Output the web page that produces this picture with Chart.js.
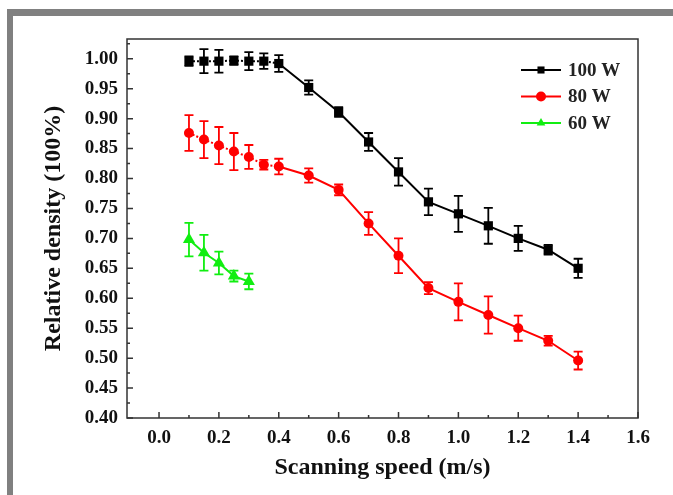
<!DOCTYPE html>
<html>
<head>
<meta charset="utf-8">
<title>Relative density vs scanning speed</title>
<script src="https://cdn.jsdelivr.net/npm/chart.js@4.4.1/dist/chart.umd.min.js"></script>
<style>
  html, body { margin: 0; padding: 0; background: #fff; }
  #wrap { position: relative; width: 673px; height: 495px; overflow: hidden; }
  .bar-top { position: absolute; left: 7px; top: 9px; width: 666px; height: 7px; background: #808080; }
  .bar-left { position: absolute; left: 7px; top: 9px; width: 6px; height: 486px; background: #808080; }
  canvas { position: absolute; left: 0; top: 0; }
</style>
</head>
<body>
<div id="wrap">
  <canvas id="densityChart" width="673" height="495"></canvas>
  <div class="bar-top"></div>
  <div class="bar-left"></div>
</div>
<script>
const speeds = [0.1, 0.15, 0.2, 0.25, 0.3, 0.35, 0.4, 0.5, 0.6, 0.7, 0.8, 0.9, 1.0, 1.1, 1.2, 1.3, 1.4];
const density100 = [0.996, 0.996, 0.996, 0.997, 0.996, 0.996, 0.992, 0.952, 0.911, 0.861, 0.811, 0.761, 0.741, 0.721, 0.700, 0.681, 0.650];
const error100 = [0.008, 0.020, 0.019, 0.007, 0.015, 0.013, 0.014, 0.012, 0.008, 0.015, 0.023, 0.022, 0.030, 0.030, 0.021, 0.008, 0.016];
const density80 = [0.876, 0.865, 0.855, 0.845, 0.836, 0.823, 0.820, 0.805, 0.781, 0.725, 0.671, 0.617, 0.594, 0.572, 0.550, 0.529, 0.496];
const error80 = [0.030, 0.031, 0.031, 0.031, 0.020, 0.008, 0.013, 0.012, 0.009, 0.019, 0.029, 0.010, 0.031, 0.031, 0.021, 0.008, 0.015];
const speeds60 = [0.1, 0.15, 0.2, 0.25, 0.3];
const density60 = [0.698, 0.676, 0.659, 0.637, 0.628];
const error60 = [0.028, 0.030, 0.019, 0.009, 0.013];
const seriesLabels = ['100 W', '80 W', '60 W'];
const xTickValues = [0, 0.2, 0.4, 0.6, 0.8, 1.0, 1.2, 1.4, 1.6];
const yTickValues = [0.40, 0.45, 0.50, 0.55, 0.60, 0.65, 0.70, 0.75, 0.80, 0.85, 0.90, 0.95, 1.00];

const serif = "'Liberation Serif', 'Times New Roman', serif";

function points(xs, ys) {
  return xs.map((x, i) => ({ x: x, y: ys[i] }));
}

// low-speed part of the curves is joined with a dotted line
const dottedStart = {
  borderDash: ctx => (ctx.p1.parsed.x <= 0.4 ? [2, 2] : undefined)
};

const errorBars = {
  id: 'errorBars',
  beforeDatasetsDraw(chart) {
    const { ctx, scales: { x, y } } = chart;
    chart.data.datasets.forEach(ds => {
      ctx.save();
      ctx.strokeStyle = ds.borderColor;
      ctx.lineWidth = 1.8;
      ds.data.forEach((pt, j) => {
        const e = ds.errors[j];
        const px = x.getPixelForValue(pt.x);
        const top = y.getPixelForValue(pt.y + e);
        const bot = y.getPixelForValue(pt.y - e);
        ctx.beginPath();
        ctx.moveTo(px, top); ctx.lineTo(px, bot);
        ctx.moveTo(px - 4.5, top); ctx.lineTo(px + 4.5, top);
        ctx.moveTo(px - 4.5, bot); ctx.lineTo(px + 4.5, bot);
        ctx.stroke();
      });
      ctx.restore();
    });
  }
};

// box around the plot with inward major / minor ticks
const plotFrame = {
  id: 'plotFrame',
  afterDraw(chart) {
    const { ctx, chartArea: a, scales: { x, y } } = chart;
    ctx.save();
    ctx.strokeStyle = '#333';
    ctx.lineWidth = 1.5;
    ctx.strokeRect(a.left, a.top, a.right - a.left, a.bottom - a.top);
    ctx.beginPath();
    for (let i = 0; i <= 16; i++) {
      const v = i / 10;
      const px = x.getPixelForValue(v);
      ctx.moveTo(px, a.bottom);
      ctx.lineTo(px, a.bottom - (i % 2 === 0 ? 6 : 3));
    }
    for (let i = 0; i <= 25; i++) {
      const v = 0.4 + i * 0.025;
      const py = y.getPixelForValue(v);
      ctx.moveTo(a.left, py);
      ctx.lineTo(a.left + (i % 2 === 0 ? 6 : 3), py);
    }
    ctx.stroke();
    ctx.restore();
  }
};

const lineLegend = {
  id: 'lineLegend',
  afterDraw(chart) {
    const { ctx, chartArea: a } = chart;
    const x0 = a.right - 117;
    ctx.save();
    chart.data.datasets.forEach((ds, i) => {
      const yy = a.top + 31 + i * 26.5;
      ctx.strokeStyle = ds.borderColor;
      ctx.lineWidth = 2;
      ctx.beginPath();
      ctx.moveTo(x0, yy); ctx.lineTo(x0 + 40, yy);
      ctx.stroke();
      ctx.fillStyle = ds.borderColor;
      Chart.helpers.drawPoint(ctx, { pointStyle: ds.pointStyle, radius: 5, borderWidth: 0 }, x0 + 20, yy);
      ctx.fillStyle = '#222';
      ctx.font = 'bold 19px ' + serif;
      ctx.textBaseline = 'middle';
      ctx.fillText(ds.label, x0 + 47, yy + 1);
    });
    ctx.restore();
  }
};

new Chart(document.getElementById('densityChart'), {
  type: 'line',
  data: {
    datasets: [
      {
        label: seriesLabels[0],
        data: points(speeds, density100),
        errors: error100,
        borderColor: '#000000',
        backgroundColor: '#000000',
        pointStyle: 'rect',
        pointRadius: 6.5,
        segment: dottedStart
      },
      {
        label: seriesLabels[1],
        data: points(speeds, density80),
        errors: error80,
        borderColor: '#ff0000',
        backgroundColor: '#ff0000',
        pointStyle: 'circle',
        pointRadius: 5,
        segment: dottedStart
      },
      {
        label: seriesLabels[2],
        data: points(speeds60, density60),
        errors: error60,
        borderColor: '#11ee11',
        backgroundColor: '#11ee11',
        pointStyle: 'triangle',
        pointRadius: 7
      }
    ]
  },
  options: {
    responsive: false,
    animation: false,
    layout: { padding: { left: 14, top: 39, right: 35, bottom: 0 } },
    elements: {
      line: { borderWidth: 2, tension: 0 },
      point: { borderWidth: 0, hoverRadius: 6 }
    },
    plugins: {
      legend: { display: false },
      tooltip: { enabled: false }
    },
    scales: {
      x: {
        type: 'linear',
        min: -0.107,
        max: 1.6,
        grid: { display: false, drawTicks: false },
        border: { display: false },
        afterBuildTicks: s => { s.ticks = xTickValues.map(v => ({ value: v })); },
        afterFit: s => { s.height = 77; },
        ticks: {
          padding: 9,
          color: '#111',
          font: { family: serif, size: 19, weight: 'bold' },
          callback: v => v.toFixed(1)
        },
        title: {
          display: true,
          text: 'Scanning speed (m/s)',
          color: '#111',
          font: { family: serif, size: 24, weight: 'bold' },
          padding: { top: 0, bottom: 13 }
        }
      },
      y: {
        type: 'linear',
        min: 0.4,
        max: 1.033,
        grid: { display: false, drawTicks: false },
        border: { display: false },
        afterBuildTicks: s => { s.ticks = yTickValues.map(v => ({ value: v })); },
        afterFit: s => { s.width = 113; },
        ticks: {
          padding: 9,
          color: '#111',
          font: { family: serif, size: 19, weight: 'bold' },
          callback: v => v.toFixed(2)
        },
        title: {
          display: true,
          text: 'Relative density (100%)',
          color: '#111',
          font: { family: serif, size: 24, weight: 'bold' },
          padding: { top: 25, bottom: 0 }
        }
      }
    }
  },
  plugins: [errorBars, plotFrame, lineLegend]
});
</script>
</body>
</html>
